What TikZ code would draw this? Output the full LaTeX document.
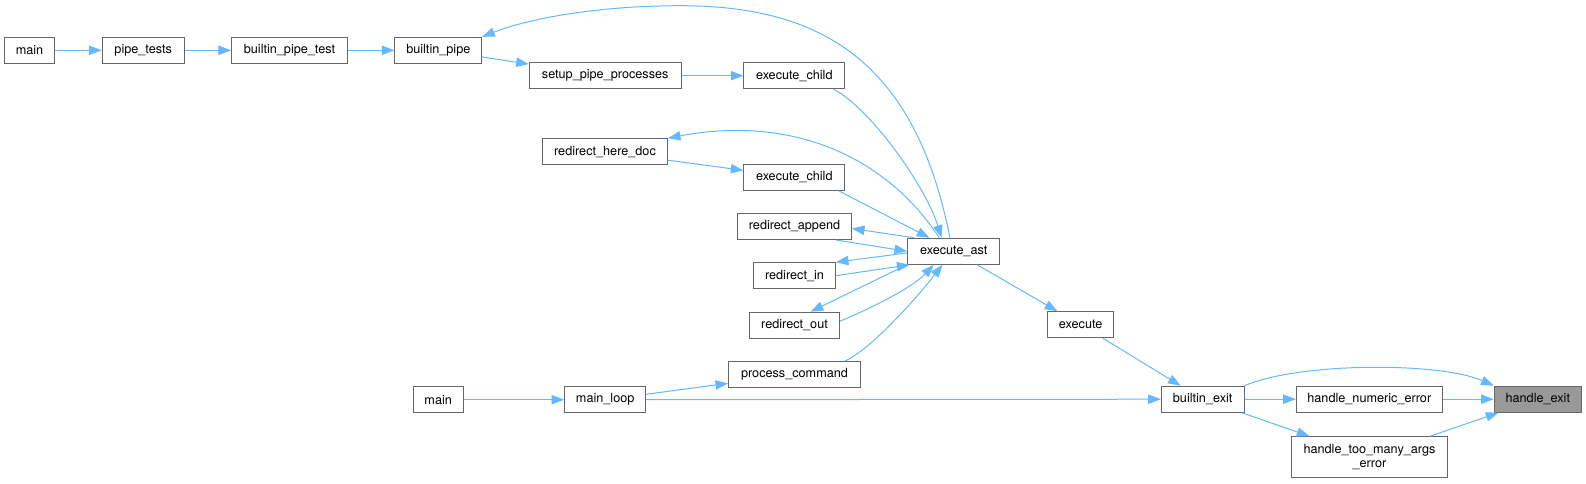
\documentclass[tikz,border=0pt]{standalone}
\usepackage{fontspec}
\setmainfont{TeX Gyre Heros}
\usetikzlibrary{arrows.meta}
\definecolor{edgeblue}{HTML}{63B8FF}
\definecolor{boxgray}{HTML}{666666}
\definecolor{hlgray}{HTML}{999999}
\begin{document}
\begin{tikzpicture}[x=0.75pt,y=-0.75pt,
  box/.style={draw=boxgray,fill=white,line width=0.75pt,inner sep=0pt,minimum height=19.5pt,font=\fontsize{9.5}{11}\selectfont,text=black,align=center},
  conn/.style={draw=edgeblue,line width=0.75pt,-{Triangle[length=9.5pt,width=7pt]}}]
\useasboundingbox (0,0) rectangle (1586,483);
% nodes
\node[box,minimum width=37.2pt] (mainA) at (29.5,50.3) {main};
\node[box,minimum width=61.3pt] (pipetests) at (143.2,50.3) {pipe\_tests};
\node[box,minimum width=86.8pt] (bpt) at (289.5,50.3) {builtin\_pipe\_test};
\node[box,minimum width=65pt] (bp) at (438.3,50.3) {builtin\_pipe};
\node[box,minimum width=113.8pt] (setup) at (605.2,75.7) {setup\_pipe\_processes};
\node[box,minimum width=75.5pt] (exchildA) at (794.3,75.7) {execute\_child};
\node[box,minimum width=93.5pt] (rhd) at (605,151.7) {redirect\_here\_doc};
\node[box,minimum width=75.5pt] (exchildB) at (794.3,177.2) {execute\_child};
\node[box,minimum width=85.3pt] (rapp) at (794.5,226.5) {redirect\_append};
\node[box,minimum width=61.3pt] (rin) at (794.5,275.7) {redirect\_in};
\node[box,minimum width=67.3pt] (rout) at (794.5,325.2) {redirect\_out};
\node[box,minimum width=98.8pt] (pcmd) at (794.5,374.5) {process\_command};
\node[box,minimum width=37.2pt] (mainB) at (438.2,399.7) {main};
\node[box,minimum width=60.8pt] (mainloop) at (605.2,399.7) {main\_loop};
\node[box,minimum width=69.2pt] (exast) at (953.8,251.3) {execute\_ast};
\node[box,minimum width=49.9pt] (execute) at (1080.7,324.7) {execute};
\node[box,minimum width=62pt] (bexit) at (1202.7,399.2) {builtin\_exit};
\node[box,minimum width=109.5pt] (hne) at (1369.3,399.2) {handle\_numeric\_error};
\node[box,minimum width=116.3pt,minimum height=30.5pt] (htm) at (1369.5,457) {handle\_too\_many\_args\\\_error};
\node[box,minimum width=65.3pt,fill=hlgray] (hexit) at (1537.8,399.2) {handle\_exit};
% connectors
\draw[conn] (mainA) -- (pipetests);
\draw[conn] (pipetests) -- (bpt);
\draw[conn] (bpt) -- (bp);
\draw[conn] (bp) -- (setup);
\draw[conn] (setup) -- (exchildA);
\draw[conn] (exchildA.-19) .. controls (870,108) and (925,185) .. (exast.132);
\draw[conn] (exast.106) .. controls (915,60) and (820,5.7) .. (680,5.7) .. controls (600,5.7) and (530,18) .. (bp.north east);
\draw[conn] (exast.137) .. controls (885,155) and (790,115) .. (rhd.north east);
\draw[conn] (rhd) -- (exchildB);
\draw[conn] (exchildB.-17.7) -- (exast.151.4);
\draw[conn] (exast.161.5) -- (rapp.-2.8);
\draw[conn] (rapp.-18.8) -- (exast.west);
\draw[conn] (exast.182) -- (rin.north east);
\draw[conn] (rin.east) -- (exast.197.7);
\draw[conn] (exast.196.2) -- (rout.40);
\draw[conn] (rout.5.3) .. controls (860,313) and (910,290) .. (exast.214.7);
\draw[conn] (pcmd.15.7) .. controls (870,350) and (915,300) .. (exast.230.3);
\draw[conn] (exast) -- (execute);
\draw[conn] (execute) -- (bexit);
\draw[conn] (mainB) -- (mainloop);
\draw[conn] (mainloop) -- (pcmd);
\draw[conn] (mainloop.east) -- (bexit.west);
\draw[conn] (bexit.north east) .. controls (1300,362) and (1440,362) .. (hexit.north west);
\draw[conn] (bexit) -- (hne);
\draw[conn] (hne) -- (hexit);
\draw[conn] (bexit) -- (htm);
\draw[conn] (htm) -- (hexit);
\end{tikzpicture}
\end{document}
